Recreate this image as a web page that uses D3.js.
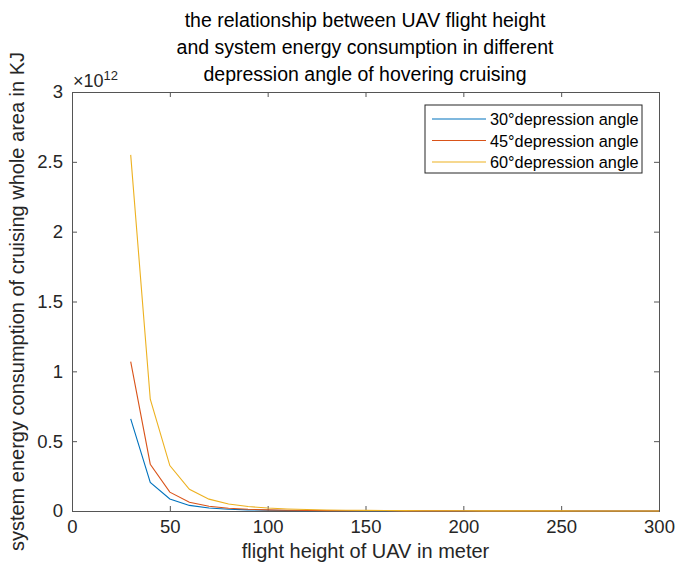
<!DOCTYPE html>
<html>
<head>
<meta charset="utf-8">
<script src="https://cdn.jsdelivr.net/npm/d3@7"></script>
<style>
  body { margin: 0; background: #fff; }
  svg { font-family: "Liberation Sans", Arial, sans-serif; }
</style>
</head>
<body>
<div id="chart"></div>
<script>
// flight heights (m) and energy in units of 1e12 KJ
var heights = [30, 40, 50, 60, 70, 80, 90, 100, 110, 120, 130, 140, 150, 160, 170, 180, 190, 200,
               210, 220, 230, 240, 250, 260, 270, 280, 290, 300];
var angle30 = [0.66, 0.205, 0.086, 0.040, 0.022, 0.013, 0.0080, 0.0053, 0.0036, 0.0026, 0.0019, 0.0014,
               0.0011, 0.0008, 0.0007, 0.0005, 0.0004, 0.0003, 0.0003, 0.0002, 0.0002, 0.0002, 0.0001,
               0.0001, 0.0001, 0.0001, 0.0001, 0.0001];
var angle45 = [1.07, 0.335, 0.135, 0.063, 0.034, 0.020, 0.0125, 0.0083, 0.0057, 0.0040, 0.0029, 0.0022,
               0.0017, 0.0013, 0.0010, 0.0008, 0.0007, 0.0005, 0.0004, 0.0004, 0.0003, 0.0003, 0.0002,
               0.0002, 0.0002, 0.0002, 0.0001, 0.0001];
var angle60 = [2.55, 0.80, 0.325, 0.155, 0.085, 0.050, 0.032, 0.021, 0.0145, 0.0104, 0.0076, 0.0057,
               0.0043, 0.0033, 0.0026, 0.0021, 0.0017, 0.0014, 0.0011, 0.0009, 0.0008, 0.0007, 0.0006,
               0.0005, 0.0004, 0.0004, 0.0003, 0.0003];
var seriesNames = ["30°depression angle", "45°depression angle", "60°depression angle"];
var seriesColors = ["#0072BD", "#D95319", "#EDB120"];
var xTicks = [0, 50, 100, 150, 200, 250, 300];
var yTicks = [0, 0.5, 1, 1.5, 2, 2.5, 3];

var width = 676, height = 567;
var plotL = 72, plotR = 659, plotT = 92, plotB = 511;
var axisColor = "#262626";
var lineColor = "#555";

var svg = d3.select("#chart").append("svg")
    .attr("width", width)
    .attr("height", height);

var x = d3.scaleLinear().domain([0, 300]).range([plotL, plotR]);
var y = d3.scaleLinear().domain([0, 3]).range([plotB, plotT]);

// axes box with ticks on all sides
var tickLen = 5;
svg.append("g")
    .attr("transform", "translate(0," + plotB + ")")
    .call(d3.axisBottom(x).tickValues(xTicks).tickSize(-tickLen).tickPadding(9).tickFormat(d3.format("d")));
svg.append("g")
    .attr("transform", "translate(0," + plotT + ")")
    .call(d3.axisTop(x).tickValues(xTicks).tickSize(-tickLen).tickFormat(""));
svg.append("g")
    .attr("transform", "translate(" + plotL + ",0)")
    .call(d3.axisLeft(y).tickValues(yTicks).tickSize(-tickLen).tickPadding(9).tickFormat(d3.format("")));
svg.append("g")
    .attr("transform", "translate(" + plotR + ",0)")
    .call(d3.axisRight(y).tickValues(yTicks).tickSize(-tickLen).tickFormat(""));

svg.selectAll(".domain").attr("stroke", lineColor);
svg.selectAll(".tick line").attr("stroke", lineColor);
svg.selectAll(".tick text")
    .attr("fill", axisColor)
    .style("font-size", "18.5px")
    .style("font-family", "'Liberation Sans', Arial, sans-serif");

// exponent label
var expo = svg.append("text")
    .attr("x", plotL + 1)
    .attr("y", plotT - 5)
    .attr("fill", axisColor)
    .style("font-size", "18px");
expo.append("tspan").text("×10");
expo.append("tspan").attr("dy", -7).style("font-size", "13px").text("12");

// lines
var line = d3.line()
    .x(function(d, i) { return x(heights[i]); })
    .y(function(d) { return y(d); });

[angle30, angle45, angle60].forEach(function(vals, i) {
    svg.append("path")
        .datum(vals)
        .attr("d", line)
        .attr("fill", "none")
        .attr("stroke", seriesColors[i])
        .attr("stroke-width", 1.1);
});

// title
var titleLines = ["the relationship between UAV flight height",
                  "and system energy consumption in different",
                  "depression angle of hovering cruising"];
svg.selectAll(".title")
    .data(titleLines)
    .enter().append("text")
    .attr("class", "title")
    .attr("x", 365)
    .attr("y", function(d, i) { return 27 + i * 27; })
    .attr("text-anchor", "middle")
    .attr("fill", "#000")
    .style("font-size", "19.5px")
    .text(function(d) { return d; });

// axis labels
svg.append("text")
    .attr("x", (plotL + plotR) / 2)
    .attr("y", 558)
    .attr("text-anchor", "middle")
    .attr("fill", axisColor)
    .style("font-size", "20px")
    .text("flight height of UAV in meter");

svg.append("text")
    .attr("transform", "translate(24," + ((plotT + plotB) / 2) + ") rotate(-90)")
    .attr("text-anchor", "middle")
    .attr("fill", axisColor)
    .style("font-size", "20px")
    .text("system energy consumption of cruising whole area in KJ");

// legend
var legend = svg.append("g").attr("transform", "translate(425,105)");
legend.append("rect")
    .attr("width", 217)
    .attr("height", 68)
    .attr("fill", "#fff")
    .attr("stroke", axisColor)
    .attr("stroke-width", 1);
seriesNames.forEach(function(name, i) {
    var yy = 14 + i * 21.5;
    legend.append("line")
        .attr("x1", 7).attr("x2", 61)
        .attr("y1", yy).attr("y2", yy)
        .attr("stroke", seriesColors[i])
        .attr("stroke-width", 1.1);
    legend.append("text")
        .attr("x", 65)
        .attr("y", yy + 6)
        .attr("fill", "#000")
        .style("font-size", "16.3px")
        .text(name);
});
</script>
</body>
</html>
